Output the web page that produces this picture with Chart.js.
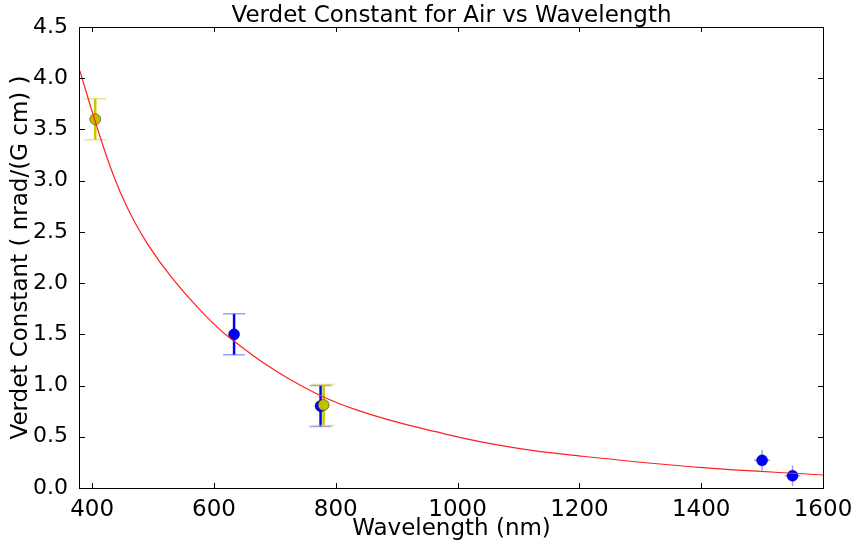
<!DOCTYPE html>
<html>
<head>
<meta charset="utf-8">
<script src="https://cdn.jsdelivr.net/npm/chart.js@4/dist/chart.umd.min.js"></script>
<style>
  html, body { margin: 0; padding: 0; background: #fff; }
  #wrap { width: 854px; height: 544px; }
</style>
</head>
<body>
<div id="wrap"><canvas id="myChart"></canvas></div>
<script>
// measured points
const blueX = [633, 775, 1500, 1550];
const blueY = [1.50, 0.80, 0.27, 0.12];
const blueYErr = [0.2, 0.2, 0.1, 0.1];
const blueXErr = [0, 0, 13, 13];

const yellowX = [405, 780];
const yellowY = [3.60, 0.81];
const yellowYErr = [0.2, 0.2];

// fitted curve
const fitX = [380, 407, 435, 459, 490, 531, 580, 626, 725, 834, 982, 1092, 1201, 1403, 1600];
const fitY = [4.07, 3.54, 3.05, 2.72, 2.39, 2.05, 1.72, 1.465, 1.06, 0.762, 0.524, 0.394, 0.312, 0.198, 0.127];

const xTicks = [400, 600, 800, 1000, 1200, 1400, 1600];
const yTicks = [0, 0.5, 1, 1.5, 2, 2.5, 3, 3.5, 4, 4.5];

const toPts = (xs, ys) => xs.map((x, i) => ({x: x, y: ys[i]}));

const FONT = "'DejaVu Sans', sans-serif";

// error bars, frame and inward ticks
const extras = {
    id: 'extras',
    beforeDatasetsDraw(chart) {
        const c = chart.ctx;
        const xs = chart.scales.x, ys = chart.scales.y;
        c.save();
        function bars(xv, yv, yerr, xerr, solid, light) {
            xv.forEach((x, i) => {
                const px = xs.getPixelForValue(x);
                const top = ys.getPixelForValue(yv[i] + yerr[i]);
                const bot = ys.getPixelForValue(yv[i] - yerr[i]);
                const py = ys.getPixelForValue(yv[i]);
                if (xerr && xerr[i] > 0) {
                    c.strokeStyle = light;
                    c.lineWidth = 1.5;
                    c.beginPath();
                    c.moveTo(px, top); c.lineTo(px, bot);
                    c.moveTo(xs.getPixelForValue(x - xerr[i]), py);
                    c.lineTo(xs.getPixelForValue(x + xerr[i]), py);
                    c.stroke();
                    return;
                }
                c.strokeStyle = solid;
                c.lineWidth = 2.5;
                c.beginPath();
                c.moveTo(px, top); c.lineTo(px, bot);
                c.stroke();
                c.strokeStyle = light;
                c.lineWidth = 1.5;
                c.beginPath();
                c.moveTo(px - 11, top); c.lineTo(px + 11, top);
                c.moveTo(px - 11, bot); c.lineTo(px + 11, bot);
                c.stroke();
            });
        }
        bars(blueX, blueY, blueYErr, blueXErr, '#0000ff', 'rgba(80,80,255,0.55)');
        bars(yellowX, yellowY, yellowYErr, null, '#c8c800', 'rgba(210,210,40,0.55)');
        c.restore();
    },
    afterDraw(chart) {
        const c = chart.ctx;
        const a = chart.chartArea;
        const xs = chart.scales.x, ys = chart.scales.y;
        c.save();
        c.strokeStyle = '#000';
        c.lineWidth = 1;
        c.beginPath();
        xTicks.forEach(t => {
            const p = Math.round(xs.getPixelForValue(t)) + 0.5;
            c.moveTo(p, a.bottom); c.lineTo(p, a.bottom - 5);
            c.moveTo(p, a.top); c.lineTo(p, a.top + 5);
        });
        yTicks.forEach(t => {
            const p = Math.round(ys.getPixelForValue(t)) + 0.5;
            c.moveTo(a.left, p); c.lineTo(a.left + 5, p);
            c.moveTo(a.right, p); c.lineTo(a.right - 5, p);
        });
        c.stroke();
        c.strokeRect(Math.round(a.left) - 0.5, Math.round(a.top) + 0.5,
            Math.round(a.right - a.left) + 1, Math.round(a.bottom - a.top));
        // title
        c.fillStyle = '#000';
        c.font = '23px ' + FONT;
        c.textAlign = 'center';
        c.textBaseline = 'alphabetic';
        c.fillText('Verdet Constant for Air vs Wavelength', (a.left + a.right) / 2, 22);
        c.restore();
    }
};

const ctx = document.getElementById('myChart');

const verdetChart = new Chart(ctx, {
    type: 'scatter',
    data: {
        datasets: [{
            type: 'line',
            label: 'fit',
            data: toPts(fitX, fitY),
            borderColor: '#ff2020',
            borderWidth: 1.2,
            pointRadius: 0,
            fill: false,
            tension: 0.4,
            order: 0
        }, {
            label: 'blue',
            data: toPts(blueX, blueY),
            backgroundColor: '#0000ff',
            borderColor: 'rgba(0,0,60,0.7)',
            borderWidth: 0.7,
            pointRadius: 5.5,
            order: 2
        }, {
            label: 'yellow',
            data: toPts(yellowX, yellowY),
            backgroundColor: '#bfbf00',
            borderColor: 'rgba(60,60,0,0.8)',
            borderWidth: 0.7,
            pointRadius: 5.5,
            order: 1
        }]
    },
    options: {
        responsive: true,
        maintainAspectRatio: false,
        animation: false,
        layout: { padding: { top: 27, right: 31, left: 0, bottom: 0 } },
        plugins: {
            legend: { display: false },
            tooltip: { enabled: false },
            title: { display: false }
        },
        scales: {
            x: {
                type: 'linear',
                min: 380,
                max: 1600,
                afterBuildTicks: s => { s.ticks = xTicks.map(v => ({value: v})); },
                afterFit: s => { s.height = 56; },
                grid: { display: false },
                border: { display: false },
                ticks: {
                    color: '#000',
                    font: { family: FONT, size: 23 },
                    padding: 0,
                    maxRotation: 0,
                    autoSkip: false,
                    callback: v => String(v)
                },
                title: {
                    display: true,
                    text: 'Wavelength (nm)',
                    color: '#000',
                    font: { family: FONT, size: 23 },
                    padding: { top: 0, bottom: 1 }
                }
            },
            y: {
                type: 'linear',
                min: 0,
                max: 4.5,
                afterBuildTicks: s => { s.ticks = yTicks.map(v => ({value: v})); },
                afterFit: s => { s.width = 80; },
                grid: { display: false },
                border: { display: false },
                ticks: {
                    color: '#000',
                    font: { family: FONT, size: 22 },
                    padding: 4,
                    callback: v => v.toFixed(1)
                },
                title: {
                    display: true,
                    text: 'Verdet Constant ( nrad/(G cm) )',
                    color: '#000',
                    font: { family: FONT, size: 23 },
                    padding: { top: 7, bottom: 0 }
                }
            }
        }
    },
    plugins: [extras]
});
</script>
</body>
</html>
